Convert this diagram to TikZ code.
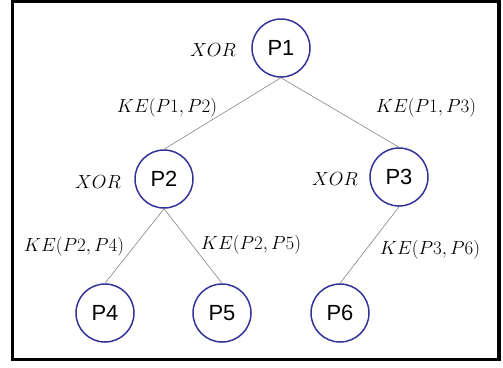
\documentclass[tikz,border=0pt]{standalone}
\usepackage{fix-cm}
\usepackage{fontspec}
\newfontfamily\pfont{Liberation Sans}
\usetikzlibrary{positioning}
\definecolor{pblue}{RGB}{51,51,153}
\tikzset{
	peer/.style={circle, draw=pblue, line width=1.5bp, minimum size=58bp, inner sep=0pt, font=\pfont\fontsize{22}{24}\selectfont},
	link/.style={draw=black!55, line width=0.5bp},
	lbl/.style={inner sep=0pt, font=\fontsize{19}{21}\selectfont}
}

\begin{document}
\begin{tikzpicture}[x=1bp, y=-1bp]
	\useasboundingbox (0,0) rectangle (503,367);
	\draw[line width=3.5bp] (12.5,1.5) rectangle (499,359.5);
	% the tree
	\node[peer] (p1) at (281,48) {P1};
	\node[peer] (p2) at (164,179) {P2};
	\node[peer] (p3) at (399,177) {P3};
	\node[peer] (p4) at (105,313) {P4};
	\node[peer] (p5) at (222,313) {P5};
	\node[peer] (p6) at (340,313) {P6};
	\draw[link] (p1.south) -- (p2.north);
	\draw[link] (p1.south) -- (p3.north);
	\draw[link] (p2.south) -- (p4.north);
	\draw[link] (p2.south) -- (p5.north);
	\draw[link] (p3.south) -- (p6.north);
	% operations and keys
	\node[lbl] (x1) at (213,50) {$XOR$};
	\node[lbl] (x2) at (98,182) {$XOR$};
	\node[lbl] (x3) at (335,179) {$XOR$};
	\node[lbl] (k12) at (167,108) {$KE(P1,P2)$};
	\node[lbl] (k13) at (426,108) {$KE(P1,P3)$};
	\node[lbl] (k24) at (74,247) {$KE(P2,P4)$};
	\node[lbl] (k25) at (251,245) {$KE(P2,P5)$};
	\node[lbl] (k36) at (430,250) {$KE(P3,P6)$};
\end{tikzpicture}
\end{document}
